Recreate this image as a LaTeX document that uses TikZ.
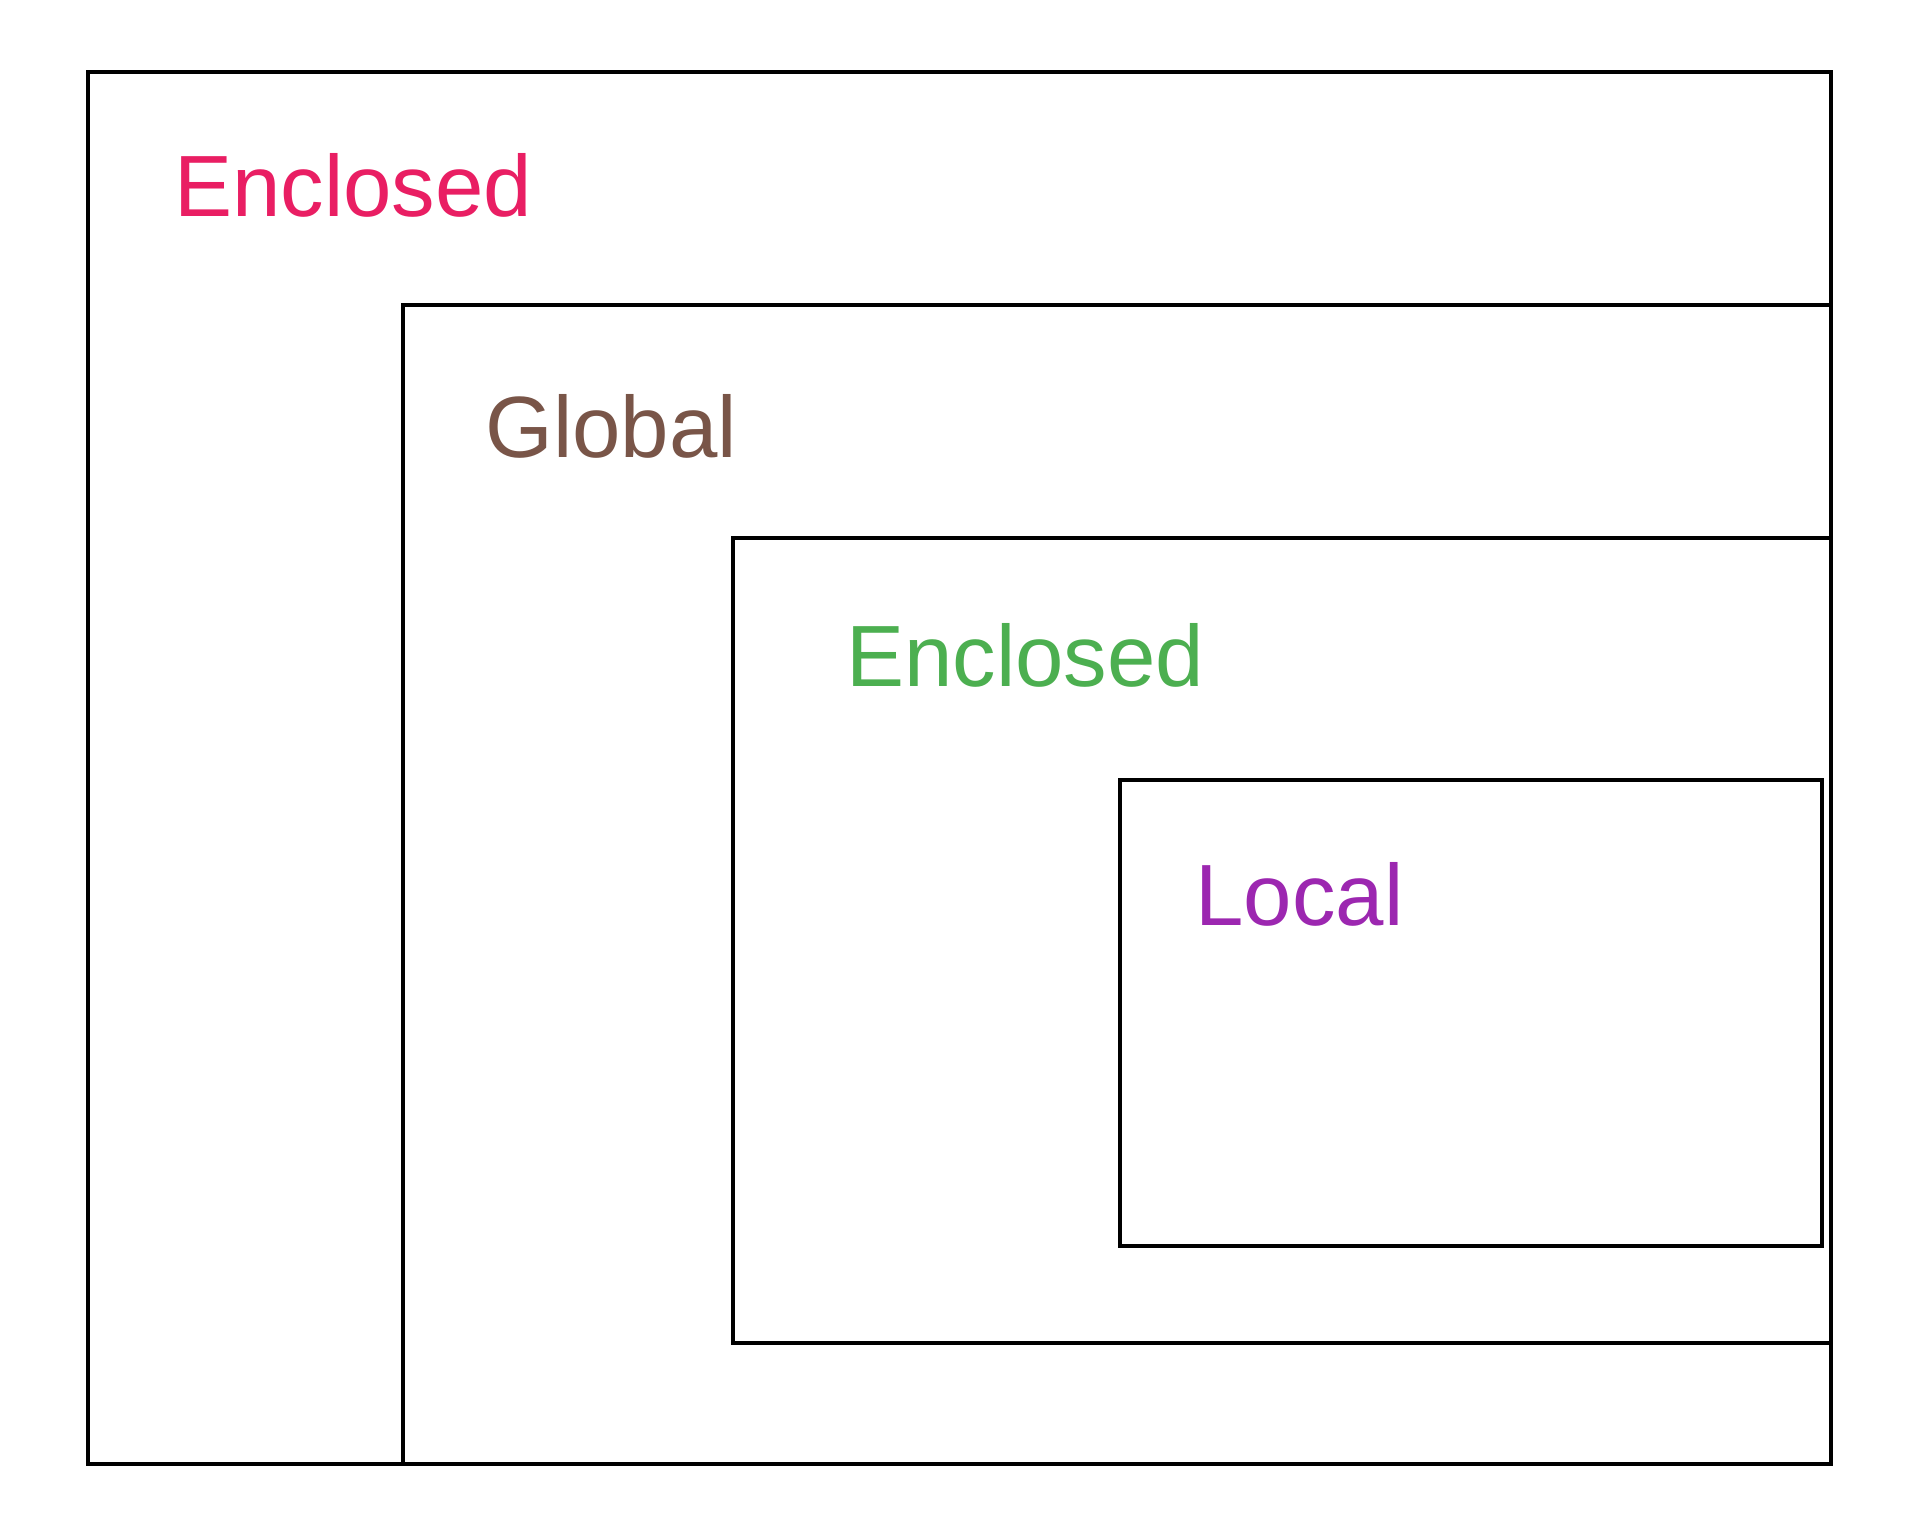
\documentclass[tikz,border=0pt]{standalone}
\usepackage{fontspec}
\setmainfont{Liberation Sans}
\definecolor{cpink}{HTML}{E91E63}
\definecolor{cbrown}{HTML}{795548}
\definecolor{cgreen}{HTML}{4CAF50}
\definecolor{cpurple}{HTML}{9C27B0}
\tikzset{
  scopebox/.style={draw=black, line width=1.8pt},
  scopelabel/.style={anchor=base west, inner sep=0pt, font=\fontsize{43.5}{50}\selectfont}
}
\begin{document}
\begin{tikzpicture}[x=0.5pt, y=-0.5pt]
\useasboundingbox (0,0) rectangle (1919,1535);
\draw[scopebox] (88,72) rectangle (1831,1464);
\draw[scopebox] (403,305) rectangle (1831,1464);
\draw[scopebox] (733,538) rectangle (1831,1343);
\draw[scopebox] (1120,780) rectangle (1822,1246);
\node[scopelabel, text=cpink] (enc1) at (174,217) {Enclosed};
\node[scopelabel, text=cbrown] (glob) at (485,458) {Global};
\node[scopelabel, text=cgreen] (enc2) at (846,687) {Enclosed};
\node[scopelabel, text=cpurple] (loc) at (1195,925) {Local};
\end{tikzpicture}
\end{document}
